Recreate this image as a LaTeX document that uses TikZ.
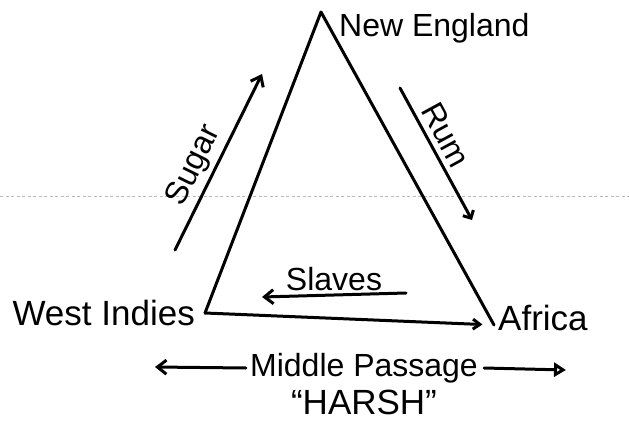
\documentclass[tikz,border=0pt]{standalone}
\usepackage{fontspec}
\setmainfont{Liberation Sans}
\usetikzlibrary{arrows.meta,positioning,calc}
\tikzset{
  hand/.style={line width=3pt,line cap=round,line join=round},
  lbl/.style={font=\fontsize{32}{34}\selectfont,inner sep=0pt},
  big/.style={font=\fontsize{35}{37}\selectfont},
}

\begin{document}
\begin{tikzpicture}[x=1pt,y=-1pt,
   barb/.style={-{Straight Barb[length=9pt,width=14pt]}},
   hollow/.style={-{Triangle[open,length=12pt,width=14pt]}}]
\useasboundingbox (0,0) rectangle (629,444);
% scan line
\draw[gray!55,line width=0.8pt,dash pattern=on 3pt off 2.5pt] (0,196) -- (629,196);
% triangle
\coordinate (NE) at (321,12);
\coordinate (WI) at (205,313);
\coordinate (AF) at (494,325);
\coordinate (tip) at ($(WI)!0.96!(AF)$);
\draw[hand] (WI) -- (NE) -- (AF);
\draw[hand,-{Straight Barb[length=7pt,width=10pt]}] (WI) -- (tip);
\node[lbl] (ne) [below right=1pt and 18pt of NE] {New England};
\node[lbl,big] (wi) [left=10pt of WI] {West Indies};
\node[lbl,big] (af) [right=4pt of AF,yshift=7pt] {Africa};
% trade arrows
\coordinate (sgA) at (175,250);
\coordinate (sgB) at (262,74);
\draw[hand,barb] (sgA) -- node[lbl,sloped,above=4pt,pos=0.43] (sugar) {Sugar} (sgB);
\coordinate (rmA) at (400,88);
\coordinate (rmB) at (472,220);
\draw[hand,-{Straight Barb[length=6pt,width=12pt]}] (rmA) -- node[lbl,sloped,above=5pt,pos=0.42] (rum) {Rum} (rmB);
\coordinate (slA) at (406,293);
\coordinate (slB) at (262,297);
\draw[hand,barb] (slA) -- node[lbl,above=3pt] (slaves) {Slaves} (slB);
% middle passage
\node[lbl] (mp) at (364,368) {Middle Passage};
\coordinate (mpL) at (155,367);
\coordinate (mpR) at (566,370);
\draw[hand,barb] ([xshift=-4pt]mp.west) -- (mpL);
\draw[hand,hollow] ([xshift=6pt]mp.east) -- (mpR);
\node[lbl,big] (harsh) [below=7pt of mp] {“HARSH”};
\end{tikzpicture}
\end{document}
